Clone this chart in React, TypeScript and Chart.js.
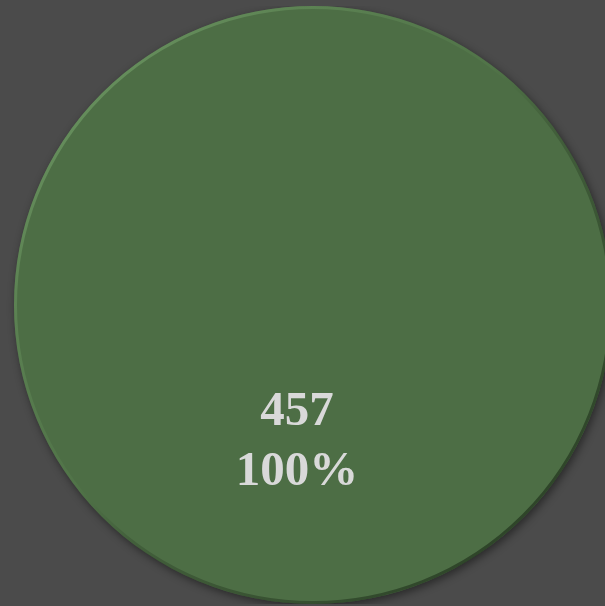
import React, { useEffect, useRef } from "react";
import { Chart, registerables } from "chart.js";

Chart.register(...registerables);

const categories = ["Total"];
const values = [457];
const percentLabels = ["100%"];

const labelPlugin = {
  id: "sliceLabels",
  beforeDatasetDraw(chart: any) {
    const ctx = chart.ctx;
    ctx.save();
    ctx.shadowColor = "rgba(0,0,0,0.45)";
    ctx.shadowBlur = 8;
    ctx.shadowOffsetX = 2;
    ctx.shadowOffsetY = 3;
  },
  afterDatasetDraw(chart: any) {
    const ctx = chart.ctx;
    ctx.restore();
    const meta = chart.getDatasetMeta(0);
    const arc = meta.data[0];
    if (!arc) return;
    const r = arc.outerRadius;
    ctx.save();
    const g = ctx.createLinearGradient(arc.x - r, arc.y - r, arc.x + r, arc.y + r);
    g.addColorStop(0, "rgba(120,165,110,0.9)");
    g.addColorStop(0.45, "rgba(90,130,80,0.3)");
    g.addColorStop(0.55, "rgba(40,60,35,0.3)");
    g.addColorStop(1, "rgba(30,48,26,0.9)");
    ctx.strokeStyle = g;
    ctx.lineWidth = 3;
    ctx.beginPath();
    ctx.arc(arc.x, arc.y, r - 1.5, 0, Math.PI * 2);
    ctx.stroke();
    ctx.restore();
  },
  afterDatasetsDraw(chart: any) {
    const ctx = chart.ctx;
    const meta = chart.getDatasetMeta(0);
    meta.data.forEach((arc: any, i: number) => {
      const p = arc.tooltipPosition();
      ctx.save();
      ctx.fillStyle = "#d9d9d9";
      ctx.font = "bold 49px 'Liberation Serif', 'Times New Roman', serif";
      ctx.textAlign = "center";
      ctx.textBaseline = "middle";
      const x = p.x - 16;
      const y = p.y - 12;
      ctx.fillText(String(values[i]), x, y - 30);
      ctx.fillText(percentLabels[i], x, y + 30);
      ctx.restore();
    });
  },
};

export default function App() {
  const ref = useRef<HTMLCanvasElement>(null);
  useEffect(() => {
    if (!ref.current) return;
    const chart = new Chart(ref.current, {
      type: "pie",
      data: {
        labels: categories,
        datasets: [
          {
            data: values,
            backgroundColor: "#4d6e45",
            borderWidth: 0,
          },
        ],
      },
      options: {
        animation: false,
        responsive: true,
        maintainAspectRatio: false,
        layout: { padding: 0 },
        plugins: { legend: { display: false }, tooltip: { enabled: false } },
      },
      plugins: [labelPlugin],
    });
    return () => chart.destroy();
  }, []);
  return (
    <div
      style={{
        position: "fixed",
        left: 0,
        top: 0,
        width: 605,
        height: 606,
        overflow: "hidden",
        background: "#4b4b4b",
      }}
    >
      <div style={{ position: "absolute", left: 0, top: 6, width: 626, height: 598 }}>
        <canvas ref={ref} />
      </div>
    </div>
  );
}
